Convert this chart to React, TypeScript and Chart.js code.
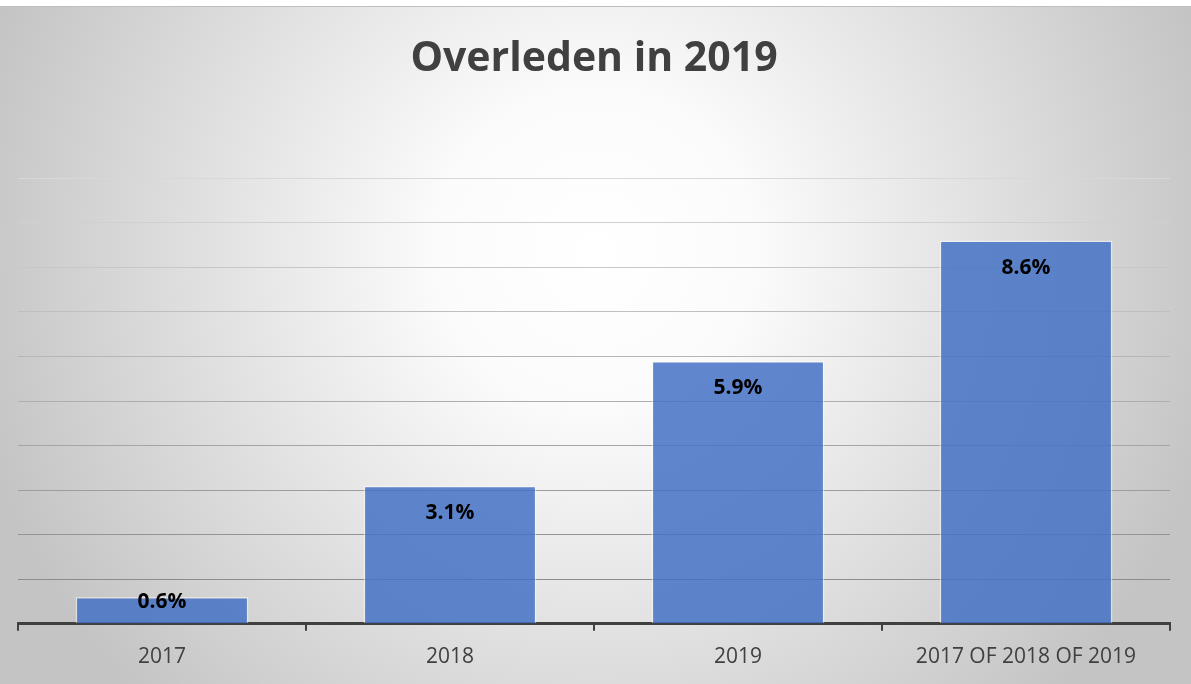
import React, { useEffect, useRef } from "react";
import { Chart, registerables } from "chart.js";

Chart.register(...registerables);

const titleText = "Overleden in 2019";
const categories = ["2017", "2018", "2019", "2017 OF 2018 OF 2019"];
const values = [0.6, 3.1, 5.9, 8.6];
const yMin = 0;
const yMax = 10;
const yStep = 1;

const FONT = '"Open Sans", "Noto Sans", sans-serif';

const backgroundPlugin = {
  id: "bgGradient",
  beforeDraw(chart: any) {
    const { ctx, width, height } = chart;
    ctx.save();
    ctx.fillStyle = "#ffffff";
    ctx.fillRect(0, 0, width, height);
    const cx = width / 2;
    const cy = 250;
    const g = ctx.createRadialGradient(cx, cy, 0, cx, cy, 640);
    g.addColorStop(0, "#ffffff");
    g.addColorStop(0.25, "#fbfbfb");
    g.addColorStop(1, "#c4c4c4");
    ctx.fillStyle = g;
    ctx.fillRect(0, 7, width, height - 7);
    ctx.fillStyle = "#bfbfbf";
    ctx.fillRect(0, 6, width, 1);
    ctx.restore();
  },
};

const labelPlugin = {
  id: "barLabels",
  afterDatasetsDraw(chart: any) {
    const { ctx } = chart;
    const meta = chart.getDatasetMeta(0);
    ctx.save();
    ctx.font = `bold 21px ${FONT}`;
    ctx.fillStyle = "#000000";
    ctx.textAlign = "center";
    ctx.textBaseline = "middle";
    meta.data.forEach((el: any, i: number) => {
      const p = el.getProps(["x", "y", "base"], true);
      const ty = Math.min(p.y + 27, p.base - 21);
      ctx.fillText(values[i].toFixed(1) + "%", p.x, ty);
    });
    ctx.restore();
  },
};

export default function App() {
  const ref = useRef<HTMLCanvasElement | null>(null);
  useEffect(() => {
    if (!ref.current) return;
    const chart = new Chart(ref.current, {
      type: "bar",
      data: {
        labels: categories,
        datasets: [
          {
            data: values,
            backgroundColor: "rgba(68,114,196,0.85)",
            borderColor: "rgba(255,255,255,0.45)",
            borderWidth: 1.5,
            categoryPercentage: 1,
            barPercentage: 0.6,
          },
        ],
      },
      options: {
        responsive: false,
        animation: false,
        layout: { padding: { left: 18, right: 21, top: 0, bottom: 0 } },
        plugins: {
          legend: { display: false },
          tooltip: { enabled: false },
          title: {
            display: true,
            text: titleText,
            color: "#404040",
            font: { family: FONT, size: 41, weight: "bold" },
            padding: { top: 35, bottom: 94 },
          },
        },
        scales: {
          x: {
            grid: {
              display: true,
              drawOnChartArea: false,
              drawTicks: true,
              tickLength: 7,
              color: "#404040",
              lineWidth: 2,
              offset: true,
            },
            border: { display: true, color: "#404040", width: 3 },
            ticks: {
              color: "#404040",
              font: { family: FONT, size: 21 },
              padding: 14,
              maxRotation: 0,
              autoSkip: false,
            },
          },
          y: {
            min: yMin,
            max: yMax,
            ticks: { display: false, stepSize: yStep },
            border: { display: false },
            grid: {
              drawTicks: false,
              lineWidth: 1,
              color: (c: any) => {
                const v = c.tick ? c.tick.value : 0;
                const k = Math.round(140 + (Math.max(v, 1) - 1) * (76 / 9));
                return `rgb(${k},${k},${k})`;
              },
            },
          },
        },
      },
      plugins: [backgroundPlugin, labelPlugin],
    });
    return () => chart.destroy();
  }, []);
  return (
    <div style={{ position: "fixed", left: 0, top: 0, width: 1191, height: 684 }}>
      <canvas ref={ref} width={1191} height={684} style={{ display: "block" }} />
    </div>
  );
}
